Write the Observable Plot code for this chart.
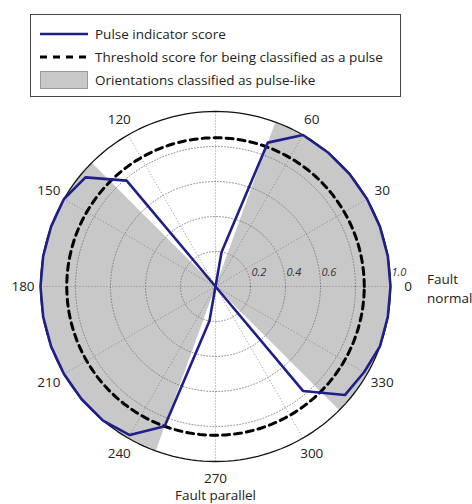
<!DOCTYPE html>
<html><head><meta charset="utf-8">
<script src="https://cdn.jsdelivr.net/npm/d3@7"></script>
<script src="https://cdn.jsdelivr.net/npm/@observablehq/plot@0.6"></script>
<style>
body{margin:0;background:#fff;font-family:"Open Sans",sans-serif;color:#222;}
#wrap{width:472px;height:504px;position:relative;overflow:hidden;}
#legendArea{position:relative;width:472px;height:100px;}
#legend{position:absolute;left:30px;top:14px;width:369px;height:81px;border:1.8px solid #444;background:#fff;}
.row{position:absolute;left:9px;height:20px;display:flex;align-items:center;font-size:13.5px;white-space:nowrap;color:#222;}
.row svg{margin-right:7px;}
</style></head>
<body><div id="wrap">
<div id="legendArea"><div id="legend"></div></div>
<div id="chart"></div>
</div>
<script>
// ---- data ----
const angles = [0,10,20,30,40,50,60,70,80,90,100,110,120,130,140,150,160,170,180,190,200,210,220,230,240,250,260,270,280,290,300,310,320,330,340,350];
const pulseScore = [1.0,1.0,1.0,1.0,1.0,1.0,1.0,0.875,0.2,0,0,0,0,0.79,0.97,1.0,1.0,1.0,1.0,1.0,1.0,1.0,1.0,1.0,0.98,0.85,0.2,0,0,0,0,0.78,0.965,0.98,1.0,1.0];
const threshold = 0.85;
const sectorStart = [135, 315];
const sectorEnd = [250, 430];
const gridRadii = [0.2, 0.4, 0.6, 0.8];
const spokeAngles = [0,30,60,90,120,150,180,210,240,270,300,330];
const angleLabels = [0,30,60,120,150,180,210,240,270,300,330];
const radialTicks = [0.2, 0.4, 0.6, 1.0];
const radialTickLabels = ["0.2", "0.4", "0.6", "1.0"];
const legendLabels = ["Pulse indicator score", "Threshold score for being classified as a pulse", "Orientations classified as pulse-like"];
const axisNotes = ["Fault\nnormal", "Fault parallel"];

// ---- colours ----
const blue = "#1f1f8a", shade = "#c8c8c8";

// ---- legend ----
const leg = document.getElementById("legend");
const swatches = [
  `<svg width="48" height="16"><line x1="0" y1="8" x2="48" y2="8" stroke="${blue}" stroke-width="2.5"/></svg>`,
  `<svg width="48" height="16"><line x1="0" y1="8" x2="48" y2="8" stroke="#000" stroke-width="3" stroke-dasharray="7,6"/></svg>`,
  `<svg width="48" height="18"><rect x="0.5" y="0.5" width="47" height="17" fill="${shade}" stroke="#999"/></svg>`
];
const rowTops = [9, 32, 55];
legendLabels.forEach((t, i) => {
  const r = document.createElement("div");
  r.className = "row"; r.style.top = rowTops[i] + "px";
  r.innerHTML = swatches[i] + "<span>" + t + "</span>";
  leg.appendChild(r);
});

// ---- geometry helpers ----
const rad = d => d * Math.PI / 180;
const px = (r, a) => r * Math.cos(rad(a));
const py = (r, a) => r * Math.sin(rad(a));
const circleSteps = d3.range(0, 361, 2);

const ringPts = gridRadii.flatMap(r => circleSteps.map(a => ({r, a})));
const outerPts = circleSteps.map(a => ({r: 1, a}));
const thrPts = circleSteps.map(a => ({r: threshold, a}));
const sectorPts = sectorStart.flatMap((s, i) => {
  const e = sectorEnd[i];
  const arc = d3.range(s, e, 1).concat([e]).map(a => ({k: i, r: 1, a}));
  return [{k: i, r: 0, a: s}, ...arc, {k: i, r: 0, a: s}];
});
const scorePts = angles.map((a, i) => ({a, r: pulseScore[i]}));
scorePts.push(scorePts[0]);

const W = 472, H = 404, cx = 215, cy = 186, S = 175;

const chart = Plot.plot({
  width: W, height: H,
  margin: 0,
  x: {domain: [-cx / S, (W - cx) / S], axis: null},
  y: {domain: [-(H - cy) / S, cy / S], axis: null},
  style: {fontFamily: "Open Sans, sans-serif", background: "transparent"},
  marks: [
    Plot.line(sectorPts, {x: d => px(d.r, d.a), y: d => py(d.r, d.a), z: "k", fill: shade, stroke: "none"}),
    Plot.line(ringPts, {x: d => px(d.r, d.a), y: d => py(d.r, d.a), z: "r", stroke: "#777", strokeWidth: 0.8, strokeDasharray: "1,2"}),
    Plot.link(spokeAngles, {x1: 0, y1: 0, x2: a => px(1, a), y2: a => py(1, a), stroke: "#777", strokeWidth: 0.8, strokeDasharray: "1,2"}),
    Plot.line(outerPts, {x: d => px(d.r, d.a), y: d => py(d.r, d.a), stroke: "#111", strokeWidth: 1.3}),
    Plot.line(thrPts, {x: d => px(d.r, d.a), y: d => py(d.r, d.a), stroke: "#000", strokeWidth: 3, strokeDasharray: "7,5"}),
    Plot.line(scorePts, {x: d => px(d.r, d.a), y: d => py(d.r, d.a), stroke: blue, strokeWidth: 2.6, strokeLinejoin: "miter"}),
    Plot.text(angleLabels, {x: a => px(1.1, a), y: a => py(1.1, a), text: a => String(a), fontSize: 13.5, fill: "#222"}),
    Plot.text(radialTicks, {x: r => r, y: 0, text: (r, i) => radialTickLabels[i], textAnchor: "start", dx: 1, dy: -14, fontSize: 11, fontStyle: "italic", fill: "#333"}),
    Plot.text([axisNotes[0]], {x: px(1.1, 0), y: 0, text: d => d, textAnchor: "start", dx: 19, dy: 1, fontSize: 13.5, lineHeight: 1.4, fill: "#222"}),
    Plot.text([axisNotes[1]], {x: 0, y: py(1.1, 270), text: d => d, dy: 17, fontSize: 13.5, fill: "#222"})
  ]
});
document.getElementById("chart").appendChild(chart);
</script>
</body></html>
